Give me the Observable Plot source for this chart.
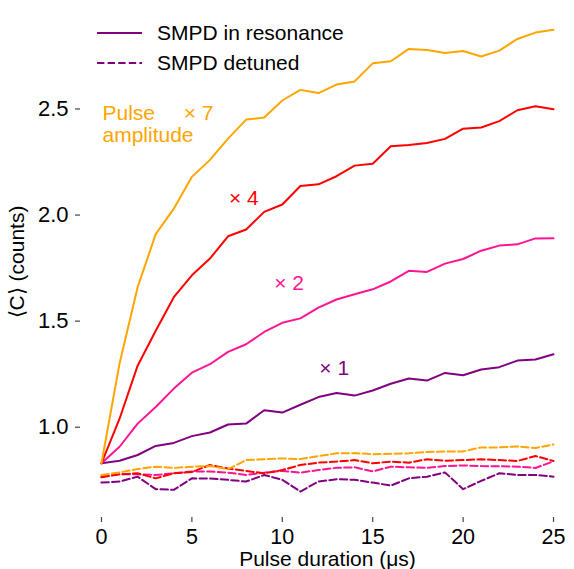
<!DOCTYPE html>
<html><head><meta charset="utf-8">
<script src="https://cdn.jsdelivr.net/npm/d3@7"></script>
<script src="https://cdn.jsdelivr.net/npm/@observablehq/plot@0.6"></script>
<style>body{margin:0;background:#fff;}</style>
</head><body><div id="chart"></div>
<script>
// Pulse durations (µs)
const durations = [0,1,2,3,4,5,6,7,8,9,10,11,12,13,14,15,16,17,18,19,20,21,22,23,24,25];
// Pulse amplitude labels and colours
const amplitudes = ["1","2","4","7"];
const amplitudeColors = ["purple","deeppink","red","orange"];
// SMPD in resonance
const resX1 = [0.83,0.842,0.869,0.912,0.926,0.958,0.975,1.013,1.017,1.08,1.069,1.106,1.142,1.161,1.149,1.173,1.205,1.23,1.22,1.256,1.245,1.272,1.283,1.314,1.319,1.344];
const resX2 = [0.83,0.908,1.017,1.095,1.182,1.257,1.297,1.355,1.391,1.449,1.492,1.513,1.564,1.602,1.627,1.65,1.687,1.737,1.732,1.771,1.793,1.832,1.856,1.862,1.89,1.891];
const resX4 = [0.83,1.04,1.29,1.455,1.613,1.716,1.795,1.90,1.932,2.015,2.05,2.137,2.145,2.183,2.233,2.242,2.324,2.33,2.34,2.359,2.407,2.413,2.443,2.494,2.513,2.499];
const resX7 = [0.83,1.30,1.66,1.91,2.03,2.18,2.26,2.36,2.45,2.46,2.54,2.59,2.575,2.615,2.63,2.715,2.725,2.783,2.778,2.764,2.773,2.747,2.775,2.83,2.86,2.873];
// SMPD detuned
const detX1 = [0.739,0.744,0.767,0.708,0.705,0.759,0.758,0.752,0.744,0.775,0.752,0.697,0.744,0.755,0.752,0.739,0.725,0.759,0.767,0.787,0.708,0.747,0.783,0.775,0.775,0.767];
const detX2 = [0.767,0.778,0.778,0.775,0.783,0.791,0.791,0.786,0.775,0.786,0.794,0.786,0.798,0.809,0.811,0.792,0.814,0.811,0.809,0.817,0.82,0.817,0.816,0.814,0.808,0.839];
const detX4 = [0.764,0.778,0.783,0.759,0.783,0.789,0.822,0.805,0.794,0.783,0.798,0.822,0.833,0.838,0.845,0.830,0.838,0.833,0.849,0.842,0.845,0.849,0.845,0.841,0.864,0.841];
const detX7 = [0.775,0.787,0.803,0.814,0.808,0.814,0.817,0.802,0.845,0.849,0.853,0.85,0.864,0.877,0.878,0.873,0.875,0.877,0.883,0.886,0.886,0.905,0.905,0.909,0.902,0.919];
// Axis ticks
const xTicks = [0,5,10,15,20,25];
const yTicks = [1.0,1.5,2.0,2.5];
const xDomain = [-1.16, 26.16];
const yDomain = [0.5745, 2.983];
// Annotation texts
const annoLabels = ["× 1","× 2","× 4","× 7"];
const annoX = [12.05, 9.55, 7.05, 4.55];
const annoY = [1.28, 1.68, 2.08, 2.48];
const legendLabels = ["SMPD in resonance","SMPD detuned"];

const resRows = [], detRows = [];
[resX1,resX2,resX4,resX7].forEach((s,k)=>s.forEach((v,i)=>resRows.push({t:durations[i], v, amp:amplitudes[k]})));
[detX1,detX2,detX4,detX7].forEach((s,k)=>s.forEach((v,i)=>detRows.push({t:durations[i], v, amp:amplitudes[k]})));
const annos = annoLabels.map((text,k)=>({text, x:annoX[k], y:annoY[k], amp:amplitudes[k]}));

const axisColor = "#444";
const chart = Plot.plot({
  width:574, height:569,
  marginLeft:80, marginRight:0, marginTop:6, marginBottom:52,
  style:{fontFamily:"'Liberation Sans', Arial, sans-serif", fontSize:"21px", background:"#fff", color:"#000"},
  x:{domain:xDomain},
  y:{domain:yDomain},
  color:{domain:amplitudes, range:amplitudeColors},
  marks:[
    Plot.line(detRows, {x:"t", y:"v", z:"amp", stroke:"amp", strokeWidth:2, strokeDasharray:"7.4,3.2"}),
    Plot.line(resRows, {x:"t", y:"v", z:"amp", stroke:"amp", strokeWidth:2}),
    Plot.text(annos, {x:"x", y:"y", text:"text", fill:"amp", textAnchor:"start", fontSize:21}),
    Plot.text([{x:0, y:annoY[3]}], {x:"x", y:"y", text:()=>"Pulse\namplitude", fill:"orange", textAnchor:"start", lineAnchor:"middle", lineHeight:1.05, dy:11, dx:1, fontSize:21}),
    Plot.axisX({ticks:xTicks, tickSize:5, tickPadding:6, stroke:axisColor, strokeWidth:1.2, line:true, label:null, fontSize:21.5}),
    Plot.axisX({ticks:[], label:"Pulse duration (μs)", labelAnchor:"center", labelArrow:"none", labelOffset:48, fontSize:21}),
    Plot.axisX({anchor:"top", ticks:[], line:true, stroke:axisColor, strokeWidth:1.2, label:null}),
    Plot.axisY({ticks:yTicks, tickFormat:d3.format(".1f"), tickSize:5, tickPadding:7, stroke:axisColor, strokeWidth:1.2, line:true, label:null, fontSize:22}),
    Plot.axisY({ticks:[], label:"⟨C⟩ (counts)", labelAnchor:"center", labelArrow:"none", labelOffset:71, fontSize:21})
  ]
});
document.getElementById("chart").appendChild(chart);

// Legend (inside the plot, top left)
const svg = d3.select(chart);
const lg = svg.append("g").attr("font-family","'Liberation Sans', Arial, sans-serif").attr("font-size",21).attr("text-anchor","start");
legendLabels.forEach((lab,k)=>{
  const yy = 33 + k*30;
  lg.append("line").attr("x1",97).attr("x2",142).attr("y1",yy).attr("y2",yy)
    .attr("stroke","purple").attr("stroke-width",2).attr("stroke-dasharray", k ? "7.4,3.2" : null);
  lg.append("text").attr("x",157).attr("y",yy).attr("dy","0.35em").attr("fill","#000").text(lab);
});
</script></body></html>
